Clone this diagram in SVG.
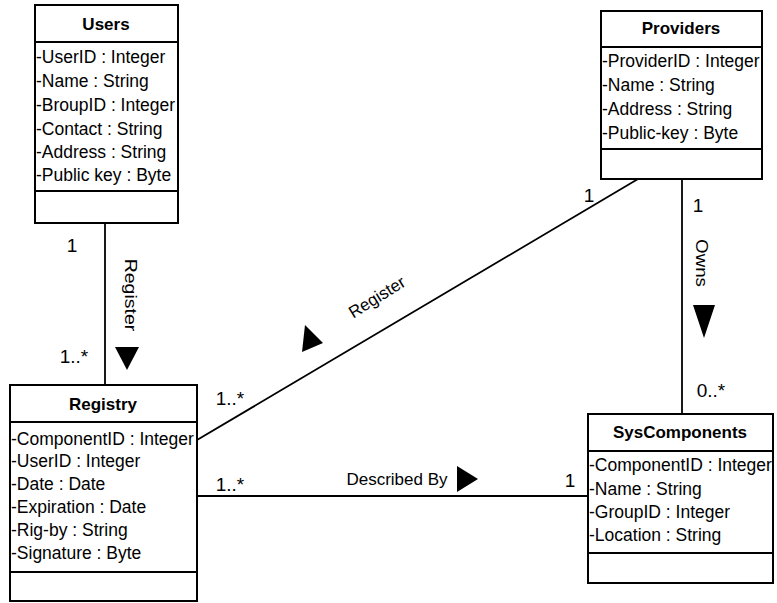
<svg xmlns="http://www.w3.org/2000/svg" width="777" height="603" viewBox="0 0 777 603">
<style>
.box{fill:#fff;stroke:#000;stroke-width:2}
.sep{stroke:#000;stroke-width:2}
.title{font-family:"Liberation Sans",Arial,sans-serif;font-weight:bold;font-size:17px;text-anchor:middle;fill:#000}
.attr{font-family:"Liberation Sans",Arial,sans-serif;font-size:17.5px;fill:#000}
.lbl{font-family:"Liberation Sans",Arial,sans-serif;font-size:17px;fill:#000}
.mult{font-family:"Liberation Sans",Arial,sans-serif;font-size:19px;fill:#000;text-anchor:middle}
.conn{stroke:#000;stroke-width:1.8;fill:none}
.tri{fill:#000}
</style>
<rect width="777" height="603" fill="#fff"/>
<g id="connectors">
<line class="conn" x1="105" y1="223" x2="105" y2="385"/>
<line class="conn" x1="682" y1="179" x2="682" y2="414"/>
<line class="conn" x1="197" y1="440" x2="638" y2="179"/>
<line class="conn" x1="197" y1="496" x2="588" y2="496"/>
<polygon class="tri" points="115,347 139,347 127,370"/>
<polygon class="tri" points="693,305 715,305 704,338"/>
<polygon class="tri" points="457,466 478,479 457,492"/>
<polygon class="tri" points="305,325 323,343 302,352"/>
<text class="mult" x="72" y="252">1</text>
<text class="mult" x="74" y="363">1..*</text>
<text class="lbl" transform="translate(125,295) rotate(90) scale(1.15,1)" text-anchor="middle" font-size="18">Register</text>
<text class="mult" x="589" y="202">1</text>
<text class="mult" x="230" y="405">1..*</text>
<text class="lbl" transform="translate(380,302) rotate(-32)" text-anchor="middle" font-size="18">Register</text>
<text class="mult" x="230" y="491">1..*</text>
<text class="lbl" x="397" y="485" text-anchor="middle">Described By</text>
<text class="mult" x="570" y="487">1</text>
<text class="mult" x="698" y="212">1</text>
<text class="lbl" transform="translate(696,263) rotate(90) scale(1.1,1)" text-anchor="middle" font-size="18">Owns</text>
<text class="mult" x="711" y="397">0..*</text>
</g>
<g id="users">
<rect class="box" x="35" y="5" width="143" height="218"/>
<line class="sep" x1="35" y1="42" x2="178" y2="42"/>
<line class="sep" x1="35" y1="191" x2="178" y2="191"/>
<text class="title" x="106" y="30">Users</text>
<text class="attr" x="36" y="62.5">-UserID : Integer</text>
<text class="attr" x="36" y="86.5">-Name : String</text>
<text class="attr" x="36" y="110.5">-BroupID : Integer</text>
<text class="attr" x="36" y="134.5">-Contact : String</text>
<text class="attr" x="36" y="157.5">-Address : String</text>
<text class="attr" x="36" y="180.5">-Public key : Byte</text>
</g>
<g id="providers">
<rect class="box" x="601" y="11" width="161" height="168"/>
<line class="sep" x1="601" y1="47" x2="762" y2="47"/>
<line class="sep" x1="601" y1="149" x2="762" y2="149"/>
<text class="title" x="681" y="34">Providers</text>
<text class="attr" x="602" y="67">-ProviderID : Integer</text>
<text class="attr" x="602" y="91">-Name : String</text>
<text class="attr" x="602" y="115">-Address : String</text>
<text class="attr" x="602" y="139">-Public-key : Byte</text>
</g>
<g id="registry">
<rect class="box" x="10" y="385" width="187" height="216"/>
<line class="sep" x1="10" y1="422" x2="197" y2="422"/>
<line class="sep" x1="10" y1="572" x2="197" y2="572"/>
<text class="title" x="103" y="410">Registry</text>
<text class="attr" x="11" y="445">-ComponentID : Integer</text>
<text class="attr" x="11" y="467">-UserID : Integer</text>
<text class="attr" x="11" y="490">-Date : Date</text>
<text class="attr" x="11" y="513">-Expiration : Date</text>
<text class="attr" x="11" y="536">-Rig-by : String</text>
<text class="attr" x="11" y="559">-Signature : Byte</text>
</g>
<g id="syscomponents">
<rect class="box" x="588" y="414" width="185" height="169"/>
<line class="sep" x1="588" y1="451" x2="773" y2="451"/>
<line class="sep" x1="588" y1="553" x2="773" y2="553"/>
<text class="title" x="680" y="438">SysComponents</text>
<text class="attr" x="589" y="471">-ComponentID : Integer</text>
<text class="attr" x="589" y="495">-Name : String</text>
<text class="attr" x="589" y="518">-GroupID : Integer</text>
<text class="attr" x="589" y="541">-Location : String</text>
</g>
</svg>
